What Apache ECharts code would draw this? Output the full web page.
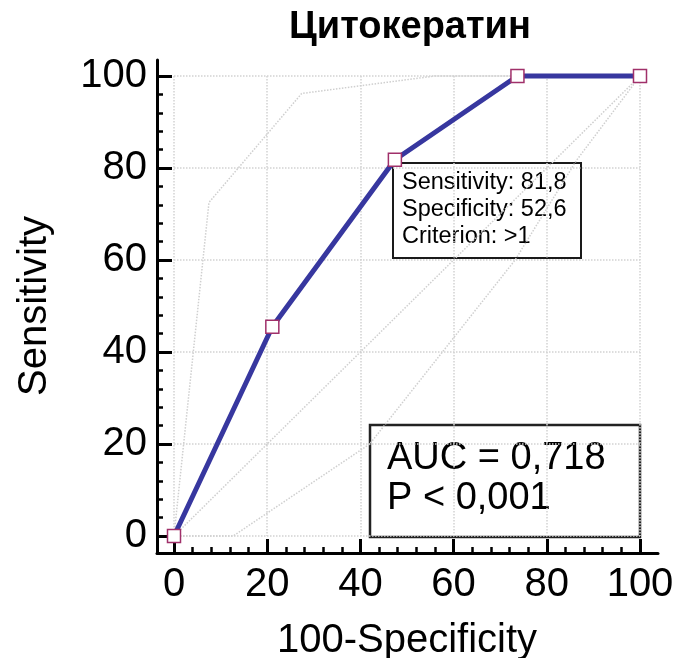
<!DOCTYPE html>
<html><head><meta charset="utf-8">
<script src="https://cdn.jsdelivr.net/npm/echarts@6/dist/echarts.min.js"></script>
<style>html,body{margin:0;padding:0;background:#fff}#c{width:674px;height:658px}</style>
</head><body><div id="c"></div>
<script>
// ROC curve (100-Specificity, Sensitivity)
const rocX = [0, 21.1, 47.4, 73.7, 100];
const rocY = [0, 45.5, 81.8, 100, 100];
// confidence bounds (dotted)
const upperX = [0, 7.5, 27.4, 56, 100];
const upperY = [0, 72.5, 96.2, 100, 100];
const lowerX = [0, 12.7, 42, 73.2, 86.4, 100];
const lowerY = [0, 0, 20, 60, 81.7, 100];
// reference diagonal
const refX = [0, 100];
const refY = [0, 100];
// axis ticks
const axisMin = 0, axisMax = 100, axisStep = 20, minorSplit = 5;
const titleText = 'Цитокератин';
const xName = '100-Specificity';
const yName = 'Sensitivity';
const criterionLines = ['Sensitivity: 81,8', 'Specificity: 52,6', 'Criterion: >1'];
const aucLines = ['AUC = 0,718', 'P < 0,001'];

const pairs = (xs, ys) => xs.map((x, i) => [x, ys[i]]);
const FONT = "'Liberation Sans', Arial, Helvetica, sans-serif";
const gridColor = '#d2d2d2';

const chart = echarts.init(document.getElementById('c'), null, {renderer: 'canvas'});

function mainAxis(extra) {
  return Object.assign({
    type: 'value', gridIndex: 0,
    min: axisMin, max: axisMax, interval: axisStep, offset: 17,
    axisLine: {show: true, onZero: false, lineStyle: {color: '#000', width: 3}},
    axisTick: {show: true, inside: true, length: 14, lineStyle: {color: '#000', width: 3}},
    minorTick: {show: true, splitNumber: minorSplit, length: 6, lineStyle: {color: '#000', width: 2.5}},
    axisLabel: {show: true, fontSize: 40, fontFamily: FONT, color: '#000', margin: 12},
    splitLine: {show: true, lineStyle: {color: gridColor, width: 1.5, type: 'dotted'}}
  }, extra);
}
function frameAxis(extra) {
  return Object.assign({
    type: 'value', gridIndex: 1,
    axisLine: {show: true, onZero: false, lineStyle: {color: '#000', width: 3}},
    axisTick: {show: false}, axisLabel: {show: false}, splitLine: {show: false}
  }, extra);
}

chart.setOption({
  animation: false,
  backgroundColor: '#fff',
  title: {
    text: titleText, left: 405, top: 4, textAlign: 'center',
    textStyle: {fontSize: 38, fontWeight: 'bold', fontFamily: FONT, color: '#000'}
  },
  grid: [
    {left: 174, right: 34, top: 76, bottom: 122, containLabel: false, outerBoundsMode: 'none'},
    {left: 157, right: 16, top: 60, bottom: 105, containLabel: false, outerBoundsMode: 'none'}
  ],
  xAxis: [
    mainAxis({position: 'bottom',
      name: xName, nameLocation: 'middle', nameGap: 68,
      nameTextStyle: {fontSize: 40, fontFamily: FONT, color: '#000'}}),
    frameAxis({min: -3.65, max: 103.86, position: 'bottom'})
  ],
  yAxis: [
    mainAxis({position: 'left',
      name: yName, nameLocation: 'middle', nameGap: 102, nameRotate: 90,
      nameTextStyle: {fontSize: 40, fontFamily: FONT, color: '#000'},
      axisTick: {show: true, inside: true, length: 15, lineStyle: {color: '#000', width: 3}},
      axisLabel: {show: true, fontSize: 40, fontFamily: FONT, color: '#000', margin: 10}}),
    frameAxis({min: -3.7, max: 103.5, position: 'left'})
  ],
  series: [
    {type: 'line', data: pairs(refX, refY), showSymbol: false, symbol: 'none', silent: true, z: 1, clip: false,
      lineStyle: {color: '#cfcfcf', width: 1.5, type: 'dotted'}},
    {type: 'line', data: pairs(upperX, upperY), showSymbol: false, symbol: 'none', silent: true, z: 1, clip: false,
      lineStyle: {color: '#cfcfcf', width: 1.5, type: 'dotted'}},
    {type: 'line', data: pairs(lowerX, lowerY), showSymbol: false, symbol: 'none', silent: true, z: 1, clip: false,
      lineStyle: {color: '#cfcfcf', width: 1.5, type: 'dotted'}},
    {type: 'line', data: pairs(rocX, rocY), clip: false, z: 5,
      symbol: 'rect', symbolSize: 13, showSymbol: true,
      lineStyle: {color: '#37379f', width: 5},
      itemStyle: {color: '#ffffff', borderColor: '#a0306a', borderWidth: 1.5}}
  ],
  graphic: [
    {type: 'group', z: 100, children: [
      {type: 'rect', shape: {x: 393, y: 163, width: 188, height: 95},
        style: {fill: '#fff', stroke: '#1a1a1a', lineWidth: 2}},
      {type: 'text', x: 402, y: 169.5,
        style: {text: criterionLines.join('\n'), fontSize: 23.5, lineHeight: 27, fontFamily: FONT, fill: '#000'}}
    ]},
    {type: 'group', z: 100, children: [
      {type: 'rect', shape: {x: 370, y: 425, width: 270, height: 112},
        style: {fill: '#fff', stroke: '#222', lineWidth: 2.5}},
      {type: 'text', x: 387, y: 439,
        style: {text: aucLines.join('\n'), fontSize: 38, lineHeight: 40, fontFamily: FONT, fill: '#000'}}
    ]}
  ]
});
</script>
</body></html>
